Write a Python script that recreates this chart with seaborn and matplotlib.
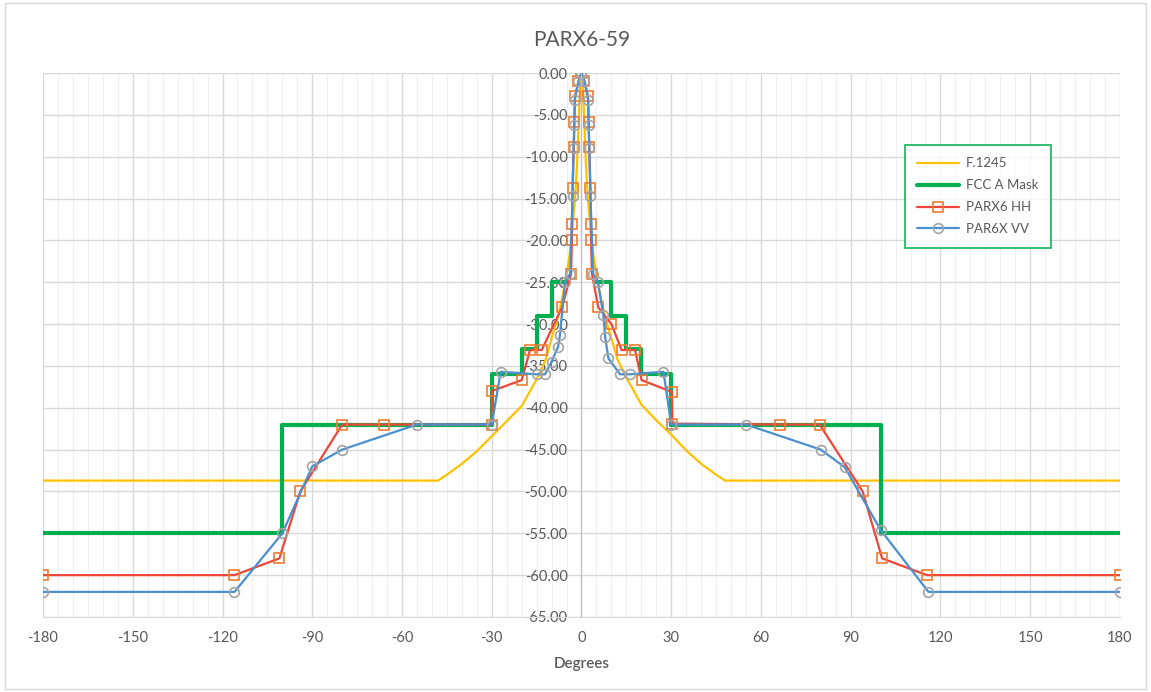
import numpy as np
import pandas as pd
import seaborn as sns
import matplotlib.pyplot as plt
from matplotlib.patches import Rectangle
from matplotlib.ticker import MultipleLocator, FormatStrFormatter

# F.1245 reference pattern
f1245_deg = [-180, -48, -45, -40, -35, -30, -25, -20, -15, -12, -10, -8, -7, -5, -4, -3, -2, -1.5, -1, -0.5, 0,
             0.5, 1, 1.5, 2, 3, 4, 5, 7, 8, 10, 12, 15, 20, 25, 30, 35, 40, 45, 48, 180]
f1245_db = [-48.7, -48.7, -48.0, -46.7, -45.2, -43.4, -41.6, -39.8, -36.6, -34.3, -31.7, -29.3, -27.8, -24.2, -21.8,
            -18.6, -14.2, -11.0, -6.5, -1.8, 0.0,
            -1.8, -6.5, -11.0, -14.2, -18.6, -21.8, -24.2, -27.8, -29.3, -31.7, -34.2, -36.4, -39.6, -41.5, -43.2,
            -45.1, -46.7, -48.0, -48.7, -48.7]

# FCC Category A mask (two halves)
fcc_deg = [-180, -100, -100, -30, -30, -20, -20, -15, -15, -10, -10, -5,
           5, 10, 10, 15, 15, 20, 20, 30, 30, 100, 100, 180]
fcc_db = [-55, -55, -42, -42, -36, -36, -33, -33, -29, -29, -25, -25,
          -25, -25, -29, -29, -33, -33, -36, -36, -42, -42, -55, -55]
fcc_side = ["L"] * 12 + ["R"] * 12

# PARX6 HH
hh_deg = [-180, -116, -101, -94, -80, -66, -30, -30, -20, -17.2, -13.3, -6.5, -3.5, -3.2, -3.2, -3.0,
          -2.6, -2.4, -2.2, -1, 0, 1, 2.2, 2.4, 2.6, 3.0, 3.2, 3.2, 3.5, 5.6, 10, 13.4, 17.9, 20.1,
          30.2, 30.4, 66.4, 79.6, 94, 100.5, 115.5, 180]
hh_db = [-60, -60, -58, -50, -42, -42, -42, -38, -36.7, -33.1, -33.1, -28, -24, -20, -18, -13.8,
         -8.8, -5.8, -2.8, -1, 0, -1, -2.8, -5.8, -8.8, -13.8, -18, -20, -24, -28, -30, -33.1, -33.1, -36.7,
         -38.1, -41.9, -42, -42, -50, -58, -60, -60]

# PAR6X VV
vv_deg = [-180, -116, -100, -90, -80, -55, -30, -27, -15, -12.2, -10, -7.8, -7.2, -5.5, -3.8, -3.0,
          -2.6, -2.4, -2.2, -1, 0, 1, 2.2, 2.4, 2.6, 3.0, 3.9, 5.5, 7.3, 7.9, 9, 12.9, 16.2, 27.4,
          30, 55, 80, 88, 100, 116, 180]
vv_db = [-62, -62, -55, -47, -45, -42, -42, -35.7, -36, -36, -34.5, -32.7, -31.3, -25, -24, -14.7,
         -9, -6.2, -3.2, -1, 0, -1, -3.2, -6.2, -9, -14.7, -24, -25, -28.9, -31.5, -34.1, -36, -36, -35.7,
         -42, -42, -45, -47.1, -54.6, -62, -62]

x_ticks = list(range(-180, 181, 30))

sns.set_style("white")
plt.rcParams["font.family"] = ["Lato", "DejaVu Sans"]
plt.rcParams["axes.unicode_minus"] = False
txt = "#595959"

fig, ax = plt.subplots(figsize=(11.51, 6.92), dpi=100)
fig.subplots_adjust(left=0.0374, right=0.973, bottom=0.1084, top=0.8945)

f1245 = pd.DataFrame({"deg": f1245_deg, "db": f1245_db})
fcc = pd.DataFrame({"deg": fcc_deg, "db": fcc_db, "side": fcc_side})
hh = pd.DataFrame({"deg": hh_deg, "db": hh_db})
vv = pd.DataFrame({"deg": vv_deg, "db": vv_db})

sns.lineplot(data=f1245, x="deg", y="db", sort=False, estimator=None, color="#FFC000",
             linewidth=1.6, label="F.1245", ax=ax)
sns.lineplot(data=fcc, x="deg", y="db", units="side", sort=False, estimator=None, color="#00B050",
             linewidth=3.0, label="FCC A Mask", ax=ax)
sns.lineplot(data=hh, x="deg", y="db", sort=False, estimator=None, color="#F0453A",
             linewidth=1.6, marker="s", markersize=7, markerfacecolor="none",
             markeredgecolor="#ED7D31", markeredgewidth=1.2, label="PARX6 HH", ax=ax)
sns.lineplot(data=vv, x="deg", y="db", sort=False, estimator=None, color="#4A90D0",
             linewidth=1.6, marker="o", markersize=7, markerfacecolor="none",
             markeredgecolor="#A5A5A5", markeredgewidth=1.2, label="PAR6X VV", ax=ax)

ax.set_xlim(-180, 180)
ax.set_ylim(-65, 0)
ax.set_xticks(x_ticks)
ax.xaxis.set_minor_locator(MultipleLocator(5))
ax.yaxis.set_major_locator(MultipleLocator(5))
ax.yaxis.set_major_formatter(FormatStrFormatter("%.2f"))

ax.grid(which="major", axis="both", color="#D9D9D9", linewidth=1.0, zorder=0)
ax.grid(which="minor", axis="x", color="#EFEFEF", linewidth=0.8, zorder=0)
ax.set_axisbelow(True)

ax.spines["left"].set_position(("data", 0))
ax.spines["left"].set_color("#BFBFBF")
ax.spines["bottom"].set_color("#D9D9D9")
ax.spines["top"].set_visible(False)
ax.spines["right"].set_visible(False)
ax.tick_params(axis="both", which="both", length=0, labelsize=10.5, colors=txt)
ax.tick_params(axis="y", pad=10)
ax.tick_params(axis="x", pad=10)

ax.set_xlabel("Degrees", fontsize=11, color=txt, fontweight="semibold", labelpad=9)
ax.set_ylabel("")
fig.text(0.505, 0.942, "PARX6-59", ha="center", va="center", fontsize=15, color=txt)

handles, labels = ax.get_legend_handles_labels()
uniq = dict(zip(labels, handles))
leg = ax.legend(list(uniq.values()), list(uniq.keys()), loc="upper left",
                bbox_to_anchor=(0.800, 0.868), fontsize=9.5, frameon=True,
                fancybox=False, handlelength=3.2, labelspacing=0.75, borderpad=0.95,
                handletextpad=0.5, borderaxespad=0)
leg.get_frame().set_edgecolor("#00B050")
leg.get_frame().set_linewidth(1.4)
for t in leg.get_texts():
    t.set_color(txt)

fig.patches.append(Rectangle((0.004, 0.004), 0.992, 0.992, transform=fig.transFigure,
                             fill=False, edgecolor="#D9D9D9", linewidth=1.0))

fig.savefig("out.png", dpi=100)
